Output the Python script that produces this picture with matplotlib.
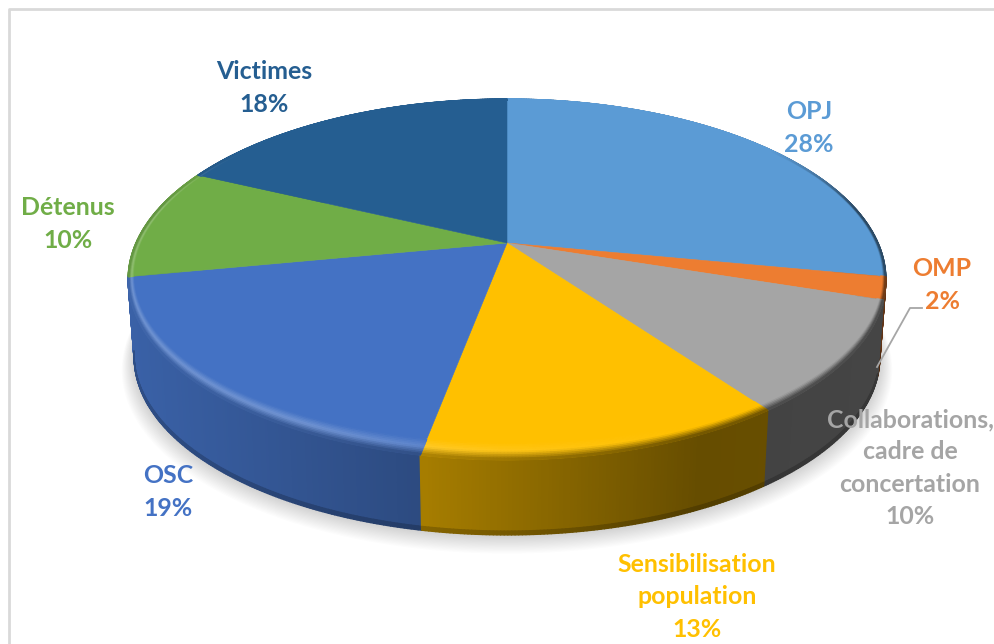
#!/usr/bin/env python3
"""3D perspective pie of the share of each group, drawn as projected polygons."""

import numpy as np
import matplotlib
matplotlib.use("Agg")
import matplotlib.pyplot as plt
from matplotlib.collections import PolyCollection
from matplotlib.colors import to_rgb

labels = ["OPJ", "OMP", "Collaborations,\ncadre de\nconcertation",
          "Sensibilisation\npopulation", "OSC", "Détenus", "Victimes"]
values = [28, 2, 10, 13, 19, 10, 18]
colors = ["#5B9BD5", "#ED7D31", "#A5A5A5", "#FFC000", "#4472C4", "#70AD47", "#255E91"]
label_xy = [(809, 128), (942, 285), (910, 468), (697, 597), (168, 492), (68, 224), (264, 88)]

# projection of the pie disc, in pixels
CX, CY = 507, 243
A, B, P = 371, 173, 0.2022
BOTTOM_SCALE, BOTTOM_DY = 0.984, 78.5

plt.rcParams["font.family"] = ["Lato", "DejaVu Sans"]


def project(t, r=1.0, scale=1.0, dy=0.0):
    """Disc coordinates (clockwise angle from the top, radius) to pixels."""
    x = r * np.sin(t)
    y = r * np.cos(t)
    d = 1 + P * y
    return CX + scale * A * x / d, CY + dy - scale * B * y / d


def shade(x):
    # side walls get darker from left to right
    return np.interp(x, [130, 425, 700, 900], [0.85, 0.65, 0.40, 0.42])


def quads(x0, y0, x1, y1):
    """Strips of quads between two polylines."""
    return np.stack([np.c_[x0[:-1], y0[:-1]], np.c_[x0[1:], y0[1:]],
                     np.c_[x1[1:], y1[1:]], np.c_[x1[:-1], y1[:-1]]], axis=1)


def add_quads(ax, polys, cols, z):
    ax.add_collection(PolyCollection(polys, facecolors=cols, edgecolors=cols,
                                     linewidths=1.0, zorder=z))


def ring(t, u):
    # u=1 is the outer rim, u=0 the inner edge of the bevel; wider at the front
    g = np.clip(-np.cos(t), 0, 1) ** 2
    return project(t, r=1 - (0.012 + 0.05 * g) * (1 - u))


fig = plt.figure(figsize=(9.94, 6.44), dpi=100)
ax = fig.add_axes([0, 0, 1, 1])
ax.set_xlim(0, 994)
ax.set_ylim(644, 0)
ax.axis("off")

# outer frame, only top and left show
ax.plot([9, 9, 994], [644, 9, 9], color="#d9d9d9", lw=2, zorder=0)

# soft shadow under the pie
circle = np.linspace(0, 2 * np.pi, 300)
for k in range(16):
    sx, sy = project(circle, scale=BOTTOM_SCALE + 0.0022 * k, dy=BOTTOM_DY + 0.35 + 0.75 * k)
    ax.fill(sx, sy, color="black", alpha=0.011, lw=0, zorder=0.5)

edges = np.cumsum([0] + values) / sum(values) * 2 * np.pi
mids = (edges[:-1] + edges[1:]) / 2

# side walls, furthest slice first so the front ones stay on top
for i in np.argsort(-np.cos(mids)):
    base = np.array(to_rgb(colors[i]))
    t = np.linspace(edges[i], edges[i + 1], max(6, values[i] * 8))
    tm = (t[:-1] + t[1:]) / 2
    top_x, top_y = project(t)
    bot_x, bot_y = project(t, scale=BOTTOM_SCALE, dy=BOTTOM_DY)
    f = shade(project(tm)[0])[:, None]
    mid_x = top_x + (bot_x - top_x) * 0.95
    mid_y = top_y + (bot_y - top_y) * 0.95
    add_quads(ax, quads(top_x, top_y, mid_x, mid_y), base * f, 1)
    add_quads(ax, quads(mid_x, mid_y, bot_x, bot_y), base * f * 0.8, 1)

for i, (value, col) in enumerate(zip(values, colors)):
    base = np.array(to_rgb(col))
    t = np.linspace(edges[i], edges[i + 1], max(6, value * 8))
    tm = (t[:-1] + t[1:]) / 2
    top_x, top_y = project(t)

    # top face
    ax.fill(np.r_[CX, top_x], np.r_[CY, top_y], color=col, lw=0.4, zorder=2)

    # bevel along the rim, bright on the left and dark on the right
    us = np.linspace(0, 1, 11)
    x = project(tm)[0]
    f = shade(x)[:, None]
    h = np.interp(x, [130, 300, 500, 700], [1.0, 1.0, 0.4, 0.0])[:, None]
    hi = base + (1 - base) * 0.24 * h
    s = np.clip((0.6 - np.cos(tm)) / 0.4, 0, 1)[:, None]
    for u0, u1 in zip(us[:-1], us[1:]):
        um = (u0 + u1) / 2
        if um < 0.5:
            c = base + (hi - base) * um / 0.5
        else:
            c = hi + (base * f - hi) * (um - 0.5) / 0.5
        c = base + (c - base) * s
        x0, y0 = ring(t, u0)
        x1, y1 = ring(t, u1)
        add_quads(ax, quads(x0, y0, x1, y1), c, 3)

# leader line from the grey slice to its label
ax.plot([922, 910, 877], [308, 308, 367], color="#a6a6a6", lw=1.3, zorder=4)

for name, value, col, (lx, ly) in zip(labels, values, colors, label_xy):
    ax.text(lx, ly, f"{name}\n{value}%", color=col, fontsize=17.9, fontweight="bold",
            ha="center", va="center", linespacing=1.49, zorder=5)

fig.savefig("out.png", dpi=100)
